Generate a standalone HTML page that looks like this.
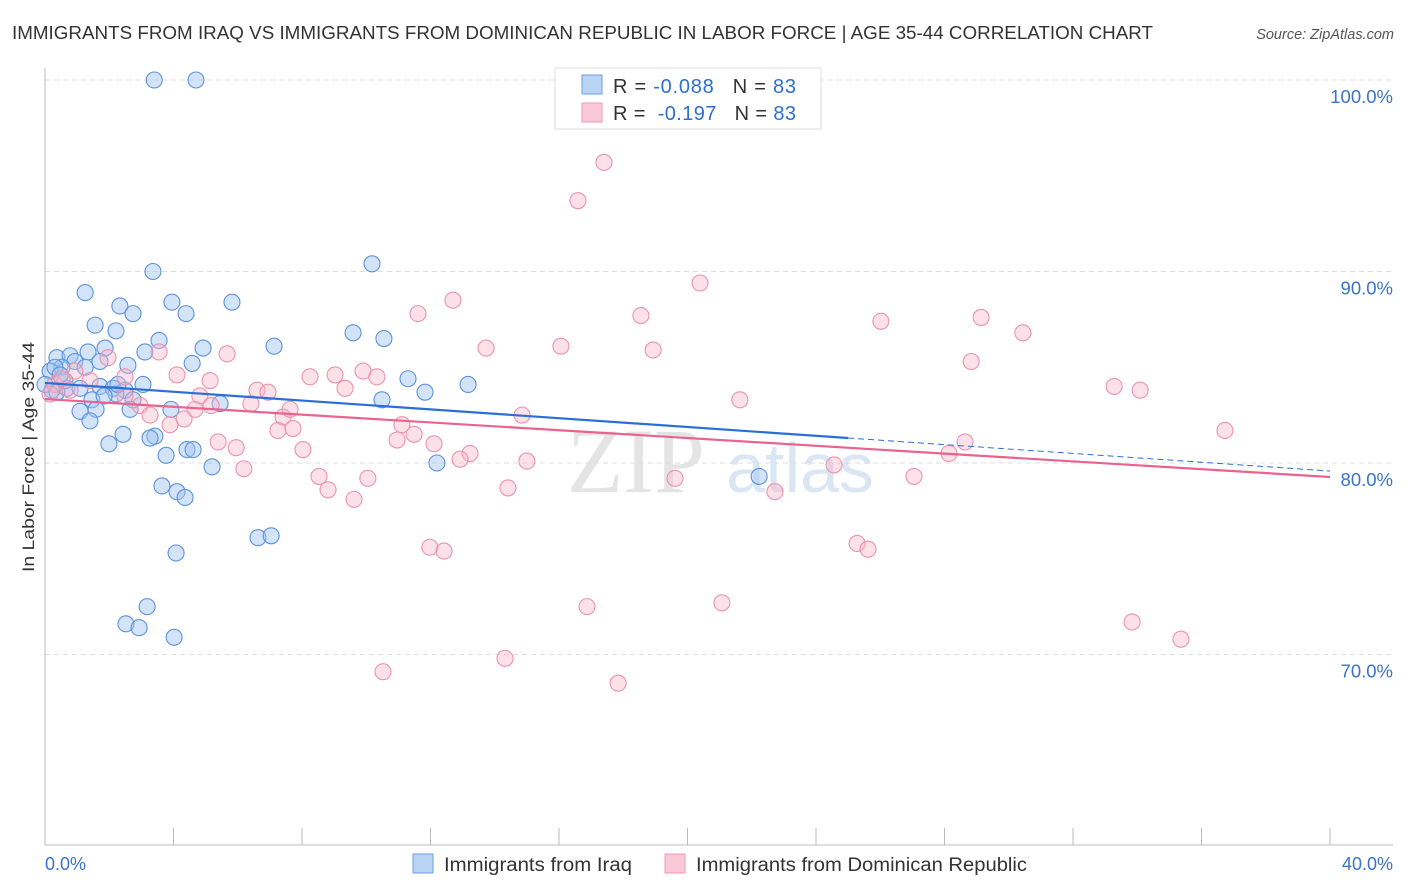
<!DOCTYPE html>
<html><head><meta charset="utf-8">
<style>
body{margin:0;background:#fff;font-family:"Liberation Sans",sans-serif;}
svg{display:block}
</style></head>
<body>
<svg id="chart" width="1406" height="892">
<text x="12" y="39" font-size="18" fill="#333" textLength="1141" lengthAdjust="spacingAndGlyphs">IMMIGRANTS FROM IRAQ VS IMMIGRANTS FROM DOMINICAN REPUBLIC IN LABOR FORCE | AGE 35-44 CORRELATION CHART</text>
<text x="1394" y="39" font-size="14.5" fill="#555" font-style="italic" text-anchor="end">Source: ZipAtlas.com</text>
<text x="636" y="492" font-size="92" fill="#e4e4e4" font-family="Liberation Serif,serif" text-anchor="middle">ZIP</text>
<text x="800" y="492" font-size="70" fill="#dbe6f5" text-anchor="middle">atlas</text>
<text transform="translate(34,457) rotate(-90)" font-size="17" fill="#333" text-anchor="middle" textLength="230" lengthAdjust="spacingAndGlyphs">In Labor Force | Age 35-44</text>
<g id="grid"></g><g id="marks"></g>
<g>
<rect x="555" y="68" width="266" height="61" fill="#fff" stroke="#ddd"/>
<rect x="582" y="75" width="20" height="19" fill="#b9d3f5" stroke="#6d9fe0"/>
<rect x="582" y="103" width="20" height="19" fill="#fac8d6" stroke="#ee9ab2"/>
<text x="613" y="93" font-size="20" fill="#333" textLength="183" lengthAdjust="spacing">R = <tspan fill="#2d6fd0">-0.088</tspan>   <tspan dx="12">N = </tspan><tspan fill="#2d6fd0">83</tspan></text>
<text x="613" y="120" font-size="20" fill="#333" textLength="183" lengthAdjust="spacing">R = <tspan dx="6" fill="#2d6fd0">-0.197</tspan>   <tspan dx="12">N = </tspan><tspan fill="#2d6fd0">83</tspan></text>
</g>
<text x="45" y="870" font-size="18" fill="#3b73c9">0.0%</text>
<text x="1393" y="870" font-size="18" fill="#3b73c9" text-anchor="end">40.0%</text>
<g><rect x="413" y="854" width="20" height="19" fill="#b9d3f5" stroke="#6d9fe0"/><text x="444" y="871" font-size="19" fill="#333" textLength="188" lengthAdjust="spacingAndGlyphs">Immigrants from Iraq</text></g>
<g><rect x="665" y="854" width="20" height="19" fill="#fac8d6" stroke="#ee9ab2"/><text x="696" y="871" font-size="19" fill="#333" textLength="331" lengthAdjust="spacingAndGlyphs">Immigrants from Dominican Republic</text></g>
</svg>
<script>
const yTicks=[100,90,80,70];
const xTicks=[0,4,8,12,16,20,24,28,32,36,40];
const iraqX=[3.4,4.7,1.25,3.36,10.18,2.33,3.95,2.74,4.39,5.82,1.56,2.21,9.59,10.55,3.55,3.11,4.92,7.13,0.37,0.78,1.34,1.87,0.93,1.71,0.53,0.16,2.58,4.58,11.3,13.17,3.05,0.22,0.68,1.09,1.71,2.12,2.49,2.21,1.46,1.84,2.74,2.65,3.92,5.45,10.49,11.83,1.09,1.59,1.4,2.43,3.42,3.27,1.99,3.77,4.42,4.61,5.2,12.2,22.23,3.64,4.11,4.36,6.63,7.04,4.08,3.18,2.52,2.93,4.02,0.31,0.62,0,0.37,1.25,0.47,2.27];
const iraqY=[100,100,88.9,90,90.4,88.2,88.4,87.8,87.8,88.4,87.2,86.9,86.8,86.5,86.4,85.8,86,86.1,85.5,85.6,85.8,86,85.3,85.3,85,84.8,85.1,85.2,84.4,84.1,84.1,83.8,83.9,83.9,84,83.9,83.8,83.6,83.3,83.5,83.3,82.8,82.8,83.1,83.3,83.7,82.7,82.8,82.2,81.5,81.4,81.3,81,80.4,80.7,80.7,79.8,80,79.3,78.8,78.5,78.2,76.1,76.2,75.3,72.5,71.6,71.4,70.9,85,84.3,84.1,83.7,85,84.6,84.1];
const domX=[17.4,16.59,20.39,12.7,11.61,18.55,26.02,29.14,30.44,13.73,16.06,18.93,3.55,5.67,1.96,28.83,4.11,2.49,8.25,9.03,9.9,10.33,33.28,34.09,9.34,6.6,6.94,4.82,5.17,4.67,21.63,6.41,14.85,7.41,11.11,4.33,3.89,7.25,7.72,11.49,10.96,5.39,12.11,5.95,8.03,28.64,28.14,13.23,12.92,36.73,15,24.56,6.19,8.53,10.05,19.61,27.05,8.81,14.41,22.72,9.62,11.98,12.42,25.28,25.62,16.87,21.07,33.84,35.36,14.32,10.52,17.84,0.31,0.53,0.93,1.4,0.78,2.96,2.49,5.14,7.63,3.27,0.16];
const domY=[95.7,93.7,89.4,88.5,87.8,87.7,87.4,87.6,86.8,86,86.1,85.9,85.8,85.7,85.5,85.3,84.6,84.5,84.5,84.6,84.8,84.5,84,83.8,83.9,83.8,83.7,83.5,83,82.8,83.3,83.1,82.5,82.4,82,82.3,82,81.7,81.8,81.5,81.2,81.1,81,80.8,80.7,81.1,80.5,80.5,80.2,81.7,80.1,79.9,79.7,79.3,79.2,79.2,79.3,78.6,78.7,78.5,78.1,75.6,75.4,75.8,75.5,72.5,72.7,71.7,70.8,69.8,69.1,68.5,84.1,84.4,84.8,84.3,83.8,83,83.5,84.3,82.8,82.5,83.6];
const iraqTrend=[84.18,79.58];
const iraqSolidEnd=[25.0];
const domTrend=[83.34,79.27];

const X0=45,X1=1330,Y100=80,PXPER=19.15;
const sx=v=>X0+(v/40)*(X1-X0);
const sy=v=>Y100+(100-v)*PXPER;
const NS='http://www.w3.org/2000/svg';
function mk(tag,attrs,parent){const e=document.createElementNS(NS,tag);for(const k in attrs)e.setAttribute(k,attrs[k]);parent.appendChild(e);return e;}
const grid=document.getElementById('grid'),marks=document.getElementById('marks');
yTicks.forEach(t=>{
 const l=mk('line',{x1:X0,x2:1393,y1:sy(t),y2:sy(t),stroke:'#ddd','stroke-dasharray':'5,4'},grid);
 
 
 const tx=mk('text',{x:1393,y:sy(t)+23,'font-size':18.5,fill:'#3b73c9','text-anchor':'end'},grid);
 tx.textContent=t.toFixed(1)+'%';
 
 
});
const ax=mk('line',{x1:X0,x2:X0,y1:68,y2:845,stroke:'#bbb'},grid);


const bx=mk('line',{x1:X0,x2:1393,y1:845,y2:845,stroke:'#bbb'},grid);


xTicks.forEach(t=>{
 const l=mk('line',{x1:sx(t),x2:sx(t),y1:828,y2:845,stroke:'#bbb'},grid);
 
 
});
iraqX.forEach((v,i)=>{
 const c=mk('circle',{cx:sx(v),cy:sy(iraqY[i]),r:8,fill:'rgba(160,196,240,0.45)',stroke:'#5b92dc','stroke-width':1.1},marks);
 
 
});
domX.forEach((v,i)=>{
 const c=mk('circle',{cx:sx(v),cy:sy(domY[i]),r:8,fill:'rgba(248,180,200,0.4)',stroke:'#ec92ae','stroke-width':1.1},marks);
 
 
});
const iy=x=>iraqTrend[0]+(iraqTrend[1]-iraqTrend[0])*x/40;
const l1=mk('line',{x1:sx(0),y1:sy(iy(0)),x2:sx(iraqSolidEnd[0]),y2:sy(iy(iraqSolidEnd[0])),stroke:'#2a6fd6','stroke-width':2.2},marks);


const l2=mk('line',{x1:sx(iraqSolidEnd[0]),y1:sy(iy(iraqSolidEnd[0])),x2:sx(40),y2:sy(iy(40)),stroke:'#2a6fd6','stroke-width':1,'stroke-dasharray':'6,4'},marks);


const l3=mk('line',{x1:sx(0),y1:sy(domTrend[0]),x2:sx(40),y2:sy(domTrend[1]),stroke:'#e8648e','stroke-width':2.2},marks);


</script>
</body></html>
